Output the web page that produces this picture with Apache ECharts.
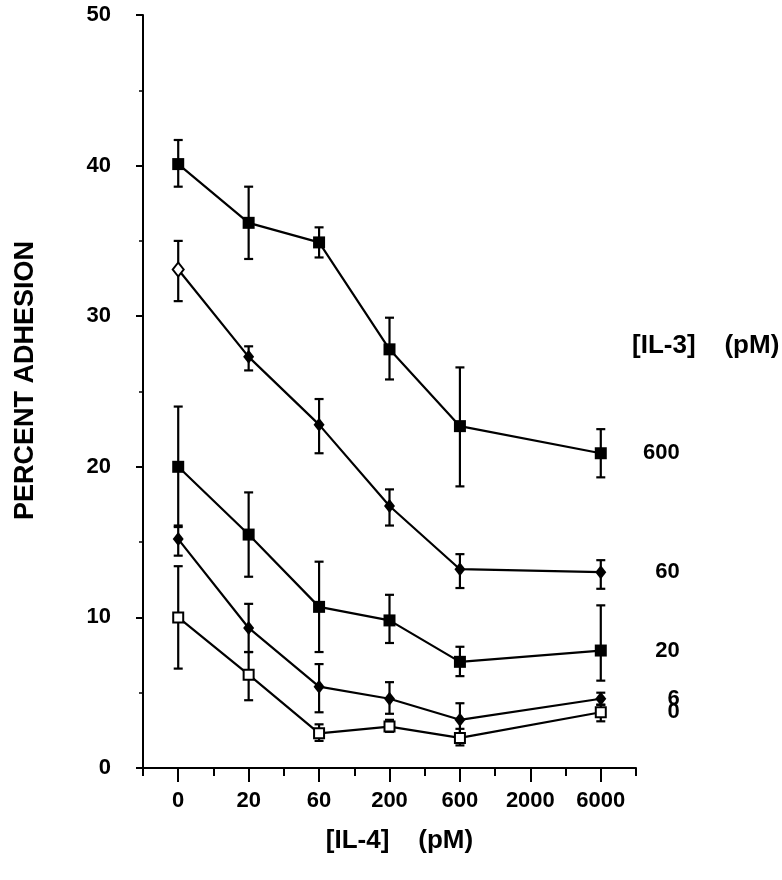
<!DOCTYPE html>
<html>
<head>
<meta charset="utf-8">
<script src="https://cdn.jsdelivr.net/npm/echarts@6/dist/echarts.min.js"></script>
<style>
  html, body { margin: 0; padding: 0; background: #fff; }
  #chart { width: 782px; height: 880px; }
</style>
</head>
<body>
<div id="chart"></div>
<script>
// ----- data -----
const categories = ['0', '20', '60', '200', '600', '2000', '6000'];
const yTicks = [0, 10, 20, 30, 40, 50];

// IL-3 = 600 pM (filled squares)
const mean600 = [40.1, 36.2, 34.9, 27.8, 22.7, null, 20.9];
const hi600   = [41.7, 38.6, 35.9, 29.9, 26.6, null, 22.5];
const lo600   = [38.6, 33.8, 33.9, 25.8, 18.7, null, 19.3];

// IL-3 = 60 pM (diamonds)
const mean60 = [33.1, 27.3, 22.8, 17.4, 13.2, null, 13.0];
const hi60   = [35.0, 28.0, 24.5, 18.5, 14.2, null, 13.8];
const lo60   = [31.0, 26.4, 20.9, 16.1, 11.95, null, 11.9];

// IL-3 = 20 pM (filled squares)
const mean20 = [20.0, 15.5, 10.7, 9.8, 7.05, null, 7.8];
const hi20   = [24.0, 18.3, 13.7, 11.5, 8.05, null, 10.8];
const lo20   = [16.0, 12.7, 7.7, 8.3, 6.1, null, 5.8];

// IL-3 = 6 pM (filled diamonds)
const mean6 = [15.2, 9.3, 5.4, 4.6, 3.2, null, 4.6];
const hi6   = [16.1, 10.9, 6.9, 5.7, 4.3, null, 5.0];
const lo6   = [14.1, 7.7, 3.7, 3.6, 2.3, null, 4.2];

// IL-3 = 0 pM (open squares)
const mean0 = [10.0, 6.2, 2.3, 2.75, 2.0, null, 3.7];
const hi0   = [13.4, 7.7, 2.9, 3.2, 2.6, null, 4.2];
const lo0   = [6.6, 4.5, 1.8, 2.4, 1.5, null, 3.1];

const seriesNames = ['600', '60', '20', '6', '0'];
const il3Title = '[IL-3]    (pM)';
const xTitle = '[IL-4]    (pM)';
const yTitle = 'PERCENT ADHESION';

// ----- styles -----
const FONT = 'Liberation Sans, Arial, Helvetica, sans-serif';
const seriesDefs = [
  { name: seriesNames[0], mean: mean600, hi: hi600, lo: lo600, symbol: 'rect', size: 12, open: false },
  { name: seriesNames[1], mean: mean60,  hi: hi60,  lo: lo60,  symbol: 'diamond', size: [11, 14], open: false, firstOpen: true },
  { name: seriesNames[2], mean: mean20,  hi: hi20,  lo: lo20,  symbol: 'rect', size: 12, open: false },
  { name: seriesNames[3], mean: mean6,   hi: hi6,   lo: lo6,   symbol: 'diamond', size: [11, 14], open: false },
  { name: seriesNames[4], mean: mean0,   hi: hi0,   lo: lo0,   symbol: 'rect', size: 10, open: true }
];

const series = [];
seriesDefs.forEach(function (d) {
  // error bars
  const errData = [];
  d.mean.forEach(function (v, i) {
    if (v != null) errData.push([i, d.lo[i], d.hi[i]]);
  });
  series.push({
    type: 'custom',
    name: d.name + '-err',
    z: 2,
    silent: true,
    data: errData,
    renderItem: function (params, api) {
      const x = api.value(0);
      const lo = api.coord([x, api.value(1)]);
      const hi = api.coord([x, api.value(2)]);
      const cap = 4.5;
      const st = { stroke: '#000', lineWidth: 2.2 };
      return {
        type: 'group',
        children: [
          { type: 'line', shape: { x1: hi[0], y1: hi[1], x2: lo[0], y2: lo[1] }, style: st },
          { type: 'line', shape: { x1: hi[0] - cap, y1: hi[1], x2: hi[0] + cap, y2: hi[1] }, style: st },
          { type: 'line', shape: { x1: lo[0] - cap, y1: lo[1], x2: lo[0] + cap, y2: lo[1] }, style: st }
        ]
      };
    }
  });
  // line with markers
  const lineData = d.mean.map(function (v, i) {
    if (v == null) return null;
    if (d.firstOpen && i === 0) {
      return { value: v, itemStyle: { color: '#fff', borderColor: '#000', borderWidth: 2 } };
    }
    return v;
  });
  series.push({
    type: 'line',
    name: d.name,
    z: 3,
    data: lineData,
    connectNulls: true,
    symbol: d.symbol,
    symbolSize: d.size,
    showAllSymbol: true,
    lineStyle: { color: '#000', width: 2.2 },
    itemStyle: d.open
      ? { color: '#fff', borderColor: '#000', borderWidth: 2 }
      : { color: '#000', borderColor: '#000', borderWidth: 0 },
    endLabel: {
      show: true,
      formatter: d.name,
      align: 'right',
      distance: 0,
      offset: [79, 0],
      color: '#000',
      fontFamily: FONT,
      fontWeight: 'bold',
      fontSize: 22
    },
    emphasis: { disabled: true }
  });
});

const chart = echarts.init(document.getElementById('chart'), null, { renderer: 'canvas' });
chart.setOption({
  animation: false,
  backgroundColor: '#fff',
  title: {
    text: il3Title,
    left: 632,
    top: 333,
    textStyle: { fontFamily: FONT, fontWeight: 'bold', fontSize: 26, color: '#000' },
    padding: 0
  },
  grid: { left: 143, right: 146, top: 15, bottom: 112, containLabel: false },
  xAxis: [
    {
      type: 'category',
      data: categories,
      boundaryGap: true,
      name: xTitle,
      nameLocation: 'middle',
      nameGap: 60,
      nameTextStyle: { fontFamily: FONT, fontWeight: 'bold', fontSize: 26, color: '#000', padding: [0, 0, 0, 20] },
      axisLine: { lineStyle: { color: '#000', width: 2 } },
      axisTick: { show: true, alignWithLabel: true, length: 14, lineStyle: { color: '#000', width: 2 } },
      axisLabel: { fontFamily: FONT, fontWeight: 'bold', fontSize: 22, color: '#000', margin: 22, interval: 0 },
      splitLine: { show: false }
    },
    {
      type: 'category',
      data: categories,
      boundaryGap: true,
      position: 'bottom',
      axisLine: { show: false },
      axisTick: { show: true, alignWithLabel: false, length: 8, interval: 0, lineStyle: { color: '#000', width: 2 } },
      axisLabel: { show: false },
      splitLine: { show: false }
    }
  ],
  yAxis: {
    type: 'value',
    min: yTicks[0],
    max: yTicks[yTicks.length - 1],
    interval: yTicks[1] - yTicks[0],
    name: yTitle,
    nameLocation: 'middle',
    nameGap: 104,
    nameRotate: 90,
    nameTextStyle: { fontFamily: FONT, fontWeight: 'bold', fontSize: 27, color: '#000', padding: [0, 0, 0, 22] },
    axisLine: { show: true, lineStyle: { color: '#000', width: 2 } },
    axisTick: { show: true, length: 7, lineStyle: { color: '#000', width: 2 } },
    minorTick: { show: true, splitNumber: 2, length: 4, lineStyle: { color: '#000', width: 1.5 } },
    axisLabel: { fontFamily: FONT, fontWeight: 'bold', fontSize: 22, color: '#000', margin: 32 },
    splitLine: { show: false }
  },
  series: series
});
</script>
</body>
</html>
